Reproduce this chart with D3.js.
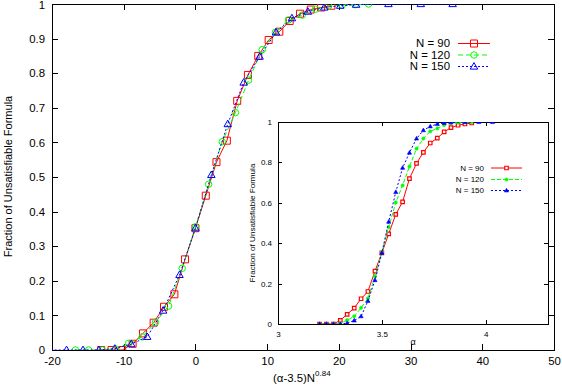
<!DOCTYPE html>
<html>
<head>
<meta charset="utf-8">
<script src="https://cdn.jsdelivr.net/npm/d3@7"></script>
<style>
  html, body { margin: 0; padding: 0; background: #fff; }
  svg { display: block; font-family: "Liberation Sans", Arial, sans-serif; }
  text { fill: #000; }
</style>
</head>
<body>
<svg id="chart" width="562" height="386"></svg>
<script>
// ---------- data ----------
const seriesNames = ["N = 90", "N = 120", "N = 150"];
const seriesN = [90, 120, 150];
const scalingExponent = 0.84;
const alphaCritical = 3.5;

const alpha90 = [3.200,3.233,3.267,3.300,3.333,3.367,3.400,3.433,3.467,3.500,3.533,3.567,3.600,3.633,3.667,3.700,3.733,3.767,3.800,3.833,3.867,3.900,3.933];
const frac90  = [0,0,0,0.018,0.048,0.079,0.125,0.161,0.262,0.352,0.446,0.543,0.605,0.720,0.795,0.850,0.896,0.920,0.951,0.972,0.984,0.990,0.995];

const alpha120 = [3.200,3.233,3.267,3.300,3.333,3.367,3.400,3.433,3.467,3.500,3.533,3.567,3.600,3.633,3.667,3.700,3.733,3.767,3.800,3.833,3.867,3.900,3.933];
const frac120  = [0,0,0,0.003,0.019,0.038,0.080,0.127,0.236,0.356,0.479,0.602,0.686,0.780,0.868,0.918,0.954,0.968,0.985,0.994,0.997,0.998,1.0];

const alpha150 = [3.200,3.233,3.267,3.300,3.333,3.367,3.400,3.433,3.467,3.500,3.533,3.567,3.600,3.633,3.667,3.700,3.733,3.767,3.800,3.833,3.900,3.967,4.033];
const frac150  = [0,0,0,0,0.004,0.017,0.038,0.114,0.217,0.352,0.506,0.653,0.773,0.848,0.918,0.959,0.978,0.990,0.995,0.998,1.0,1.0,1.0];

const mainXTicks = [-20,-10,0,10,20,30,40,50];
const mainXTickLabels = ["-20","-10","0","10","20","30","40","50"];
const mainYTicks = [0,0.1,0.2,0.3,0.4,0.5,0.6,0.7,0.8,0.9,1];
const mainYTickLabels = ["0","0.1","0.2","0.3","0.4","0.5","0.6","0.7","0.8","0.9","1"];
const insetXTicks = [3,3.5,4];
const insetXTickLabels = ["3","3.5","4"];
const insetYTicks = [0,0.2,0.4,0.6,0.8,1];
const insetYTickLabels = ["0","0.2","0.4","0.6","0.8","1"];

const colors = ["#ff0000", "#00ff00", "#0000ff"];
const dashes = [null, "5,3", "2,2"];

const alphas = [alpha90, alpha120, alpha150];
const fracs = [frac90, frac120, frac150];

// ---------- layout ----------
const svg = d3.select("#chart");
const mx = d3.scaleLinear().domain([-20, 50]).range([52, 554]);
const my = d3.scaleLinear().domain([0, 1]).range([350, 4]);
const ix = d3.scaleLinear().domain([3, 4.3]).range([278, 548]);
const iy = d3.scaleLinear().domain([0, 1]).range([324, 122]);

const mainFont = 11.4, insetFont = 8;

function markerPath(kind, s) {
  if (kind === 0) { // square
    return `M${-s/2},${-s/2}h${s}v${s}h${-s}Z`;
  } else if (kind === 1) { // circle
    const r = s/2;
    return `M${r},0A${r},${r} 0 1,1 ${-r},0A${r},${r} 0 1,1 ${r},0Z`;
  } else { // triangle
    const h = s * 0.87;
    return `M0,${-h*0.6}L${s/2},${h*0.4}L${-s/2},${h*0.4}Z`;
  }
}

// ---------- main plot ----------
const main = svg.append("g");
main.append("defs").append("clipPath").attr("id", "mclip")
  .append("rect").attr("x", 52).attr("y", 4).attr("width", 502).attr("height", 346);

function styleAxis(g) {
  g.select(".domain").remove();
  g.selectAll("line").attr("stroke", "#000").attr("shape-rendering", "crispEdges");
  g.selectAll("text").attr("font-family", "Liberation Sans, Arial, sans-serif");
}

main.append("g").attr("transform", "translate(0,350)")
  .call(d3.axisBottom(mx).tickValues(mainXTicks).tickSizeInner(-6).tickSizeOuter(0).tickPadding(7)
    .tickFormat((d, i) => mainXTickLabels[i]))
  .call(styleAxis).selectAll("text").attr("font-size", mainFont);
main.append("g").attr("transform", "translate(0,4)")
  .call(d3.axisTop(mx).tickValues(mainXTicks).tickSizeInner(-6).tickSizeOuter(0).tickFormat(""))
  .call(styleAxis);
const yAx = main.append("g").attr("transform", "translate(52,0)")
  .call(d3.axisLeft(my).tickValues(mainYTicks).tickSizeInner(-6).tickSizeOuter(0).tickPadding(7)
    .tickFormat((d, i) => mainYTickLabels[i]))
  .call(styleAxis);
yAx.selectAll("text").attr("font-size", mainFont)
  .attr("dy", d => d === 1 ? "0.42em" : "0.32em");
main.append("g").attr("transform", "translate(554,0)")
  .call(d3.axisRight(my).tickValues(mainYTicks).tickSizeInner(-6).tickSizeOuter(0).tickFormat(""))
  .call(styleAxis);

main.append("rect").attr("x", 52).attr("y", 4).attr("width", 502).attr("height", 346)
  .attr("fill", "none").attr("stroke", "#000").attr("stroke-width", 1).attr("shape-rendering", "crispEdges");

const mLayer = main.append("g").attr("clip-path", "url(#mclip)");
seriesN.forEach((n, k) => {
  const factor = Math.pow(n, scalingExponent);
  const pts = alphas[k].map((a, i) => [(a - alphaCritical) * factor, fracs[k][i]]);
  const line = d3.line().x(d => mx(d[0])).y(d => my(d[1]));
  mLayer.append("path").datum(pts).attr("d", line)
    .attr("fill", "none").attr("stroke", colors[k]).attr("stroke-width", 1)
    .attr("stroke-dasharray", dashes[k]);
  mLayer.append("g").selectAll("path").data(pts).join("path")
    .attr("transform", d => `translate(${mx(d[0])},${my(d[1])})`)
    .attr("d", markerPath(k, k === 0 ? 7 : (k === 1 ? 6.5 : 7.5)))
    .attr("fill", "none").attr("stroke", colors[k]).attr("stroke-width", 1);
});

// main legend
const mLegY = [43.5, 55, 66.5];
seriesNames.forEach((name, k) => {
  main.append("text").attr("x", 450).attr("y", mLegY[k]).attr("dy", "0.35em")
    .attr("text-anchor", "end").attr("font-size", mainFont).text(name);
  main.append("line").attr("x1", 458).attr("x2", 490).attr("y1", mLegY[k]).attr("y2", mLegY[k])
    .attr("stroke", colors[k]).attr("stroke-dasharray", dashes[k]);
  main.append("path").attr("transform", `translate(474,${mLegY[k]})`)
    .attr("d", markerPath(k, k === 0 ? 7 : (k === 1 ? 6.5 : 7.5)))
    .attr("fill", "none").attr("stroke", colors[k]);
});

// main axis titles
main.append("text").attr("transform", "translate(8,176.5) rotate(-90)")
  .attr("text-anchor", "middle").attr("dy", "0.35em").attr("font-size", 11).text("Fraction of Unsatisfiable Formula");
const xt = main.append("text").attr("x", 273).attr("y", 382).attr("font-size", mainFont);
xt.append("tspan").text("(α-3.5)N");
xt.append("tspan").attr("dy", -6).attr("font-size", 8).text("0.84");

// ---------- inset ----------
const inset = svg.append("g");
inset.append("defs").append("clipPath").attr("id", "iclip")
  .append("rect").attr("x", 278).attr("y", 122).attr("width", 270).attr("height", 202);
inset.append("rect").attr("x", 278).attr("y", 122).attr("width", 270).attr("height", 202)
  .attr("fill", "#fff");

inset.append("g").attr("transform", "translate(0,324)")
  .call(d3.axisBottom(ix).tickValues(insetXTicks).tickSizeInner(-4).tickSizeOuter(0).tickPadding(7)
    .tickFormat((d, i) => insetXTickLabels[i]))
  .call(styleAxis).selectAll("text").attr("font-size", insetFont);
inset.append("g").attr("transform", "translate(0,122)")
  .call(d3.axisTop(ix).tickValues(insetXTicks).tickSizeInner(-4).tickSizeOuter(0).tickFormat(""))
  .call(styleAxis);
inset.append("g").attr("transform", "translate(278,0)")
  .call(d3.axisLeft(iy).tickValues(insetYTicks).tickSizeInner(-4).tickSizeOuter(0).tickPadding(6)
    .tickFormat((d, i) => insetYTickLabels[i]))
  .call(styleAxis).selectAll("text").attr("font-size", insetFont);
inset.append("g").attr("transform", "translate(548,0)")
  .call(d3.axisRight(iy).tickValues(insetYTicks).tickSizeInner(-4).tickSizeOuter(0).tickFormat(""))
  .call(styleAxis);
inset.append("rect").attr("x", 278).attr("y", 122).attr("width", 270).attr("height", 202)
  .attr("fill", "none").attr("stroke", "#000").attr("shape-rendering", "crispEdges");

const iLayer = inset.append("g").attr("clip-path", "url(#iclip)");
function insetMarker(sel, k) {
  if (k === 0) {
    sel.attr("d", markerPath(0, 3.5)).attr("fill", "#fff").attr("stroke", colors[0]).attr("stroke-width", 1.2);
  } else if (k === 1) {
    sel.attr("d", markerPath(1, 3.2)).attr("fill", colors[1]).attr("stroke", colors[1]).attr("stroke-width", 0.6);
  } else {
    sel.attr("d", markerPath(2, 4.2)).attr("fill", colors[2]).attr("stroke", colors[2]).attr("stroke-width", 0.6);
  }
}
seriesN.forEach((n, k) => {
  const pts = alphas[k].map((a, i) => [a, fracs[k][i]]);
  const line = d3.line().x(d => ix(d[0])).y(d => iy(d[1]));
  iLayer.append("path").datum(pts).attr("d", line)
    .attr("fill", "none").attr("stroke", colors[k]).attr("stroke-width", 1)
    .attr("stroke-dasharray", dashes[k] ? (k === 1 ? "4,2" : "2,2") : null);
  iLayer.append("g").selectAll("path").data(pts).join("path")
    .attr("transform", d => `translate(${ix(d[0])},${iy(d[1])})`)
    .call(insetMarker, k);
});

// inset legend
const iLegY = [168, 179.5, 190.5];
seriesNames.forEach((name, k) => {
  inset.append("text").attr("x", 484).attr("y", iLegY[k]).attr("dy", "0.35em")
    .attr("text-anchor", "end").attr("font-size", insetFont).text(name);
  inset.append("line").attr("x1", 491).attr("x2", 522).attr("y1", iLegY[k]).attr("y2", iLegY[k])
    .attr("stroke", colors[k]).attr("stroke-dasharray", dashes[k] ? (k === 1 ? "4,2" : "2,2") : null);
  inset.append("path").attr("transform", `translate(506.5,${iLegY[k]})`).call(insetMarker, k);
});

inset.append("text").attr("transform", "translate(252,223) rotate(-90)")
  .attr("text-anchor", "middle").attr("dy", "0.35em").attr("font-size", 8.1).text("Fraction of Unsatisfiable Formula");
inset.append("text").attr("x", 413).attr("y", 342).attr("dy", "0.35em")
  .attr("text-anchor", "middle").attr("font-size", 9).text("α");
</script>
</body>
</html>
